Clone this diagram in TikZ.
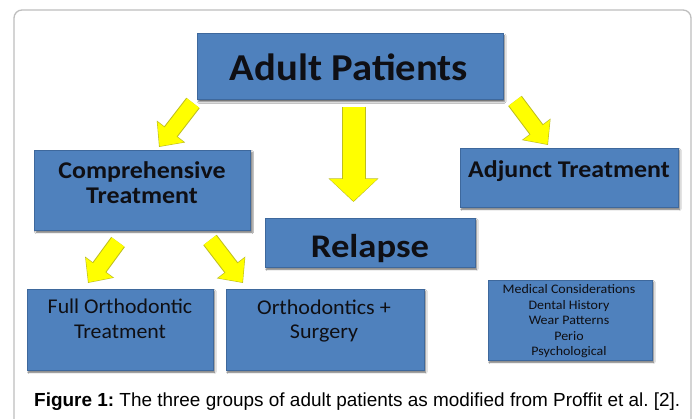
\documentclass[tikz,border=0pt]{standalone}
\usepackage{fontspec}
\setmainfont{Carlito}
\newfontfamily\capfont{Liberation Sans}
\usetikzlibrary{arrows.meta,shadows.blur}
\definecolor{boxblue}{RGB}{79,129,189}
\definecolor{boxedge}{RGB}{62,104,156}
\definecolor{txt}{RGB}{15,15,20}
\definecolor{arrfill}{RGB}{255,255,0}
\definecolor{arredge}{RGB}{190,190,30}
\definecolor{framegray}{RGB}{190,190,190}
\tikzset{
  bluebox/.style={rectangle, fill=boxblue, draw=boxedge, line width=0.8pt, inner sep=0pt,
    blur shadow={shadow xshift=1.6pt, shadow yshift=-2.2pt, shadow blur radius=1.6pt, shadow opacity=60}},
  lbl/.style={anchor=base, text=txt, inner sep=0pt},
  arrback/.style={draw=arredge, line width=#1+2pt},
  arrfront/.style={draw=arrfill, line width=#1},
}
\newcommand{\hs}[2]{\scalebox{#1}[1]{#2}}
\newcommand{\yarrow}[5]{% start, end, shaft, headwidth, headlength
  \draw[arrback=#3, -{Triangle[width=#4+2.6pt, length=#5+1.6pt]}] (#1) -- (#2);
  \draw[arrfront=#3, -{Triangle[width=#4, length=#5]}, shorten >=0.9pt] (#1) -- (#2);
}
\begin{document}
\begin{tikzpicture}[x=1pt,y=-1pt]
\useasboundingbox (0,0) rectangle (697,419);
\fill[white] (0,0) rectangle (697,419);
\draw[framegray, line width=1.3pt, rounded corners=8pt] (14,440) -- (14,10) -- (691,10) -- (691,440);

% boxes
\node[bluebox, minimum width=306pt, minimum height=66pt] (adult) at (350,66.5) {};
\node[bluebox, minimum width=216pt, minimum height=80pt] (comp) at (142.5,190) {};
\node[bluebox, minimum width=218pt, minimum height=59pt] (adj) at (569,177.5) {};
\node[bluebox, minimum width=210pt, minimum height=49pt] (rel) at (370,242.5) {};
\node[bluebox, minimum width=186pt, minimum height=81pt] (full) at (120,329.5) {};
\node[bluebox, minimum width=198pt, minimum height=81pt] (surg) at (325,329.5) {};
\node[bluebox, minimum width=164pt, minimum height=80pt] (med) at (570,320) {};

% texts
\node[lbl, font=\fontsize{38}{42}\selectfont\bfseries] (tadult) at (349,81) {\hs{1.07}{Adult Patients}};
\node[lbl, font=\fontsize{24}{27}\selectfont\bfseries] (tcomp1) at (142,178.5) {\hs{1.08}{Comprehensive}};
\node[lbl, font=\fontsize{24}{27}\selectfont\bfseries] (tcomp2) at (142,204) {\hs{1.08}{Treatment}};
\node[lbl, font=\fontsize{24}{27}\selectfont\bfseries] (tadj) at (569,177.5) {\hs{1.08}{Adjunct Treatment}};
\node[lbl, font=\fontsize{33}{36}\selectfont\bfseries] (trel) at (370,257.5) {\hs{1.11}{Relapse}};
\node[lbl, font=\fontsize{21}{25}\selectfont] (tfull1) at (120,313.5) {\hs{1.04}{Full Orthodontic}};
\node[lbl, font=\fontsize{21}{25}\selectfont] (tfull2) at (120,339) {\hs{1.04}{Treatment}};
\node[lbl, font=\fontsize{21}{25}\selectfont] (tsurg1) at (324,315) {\hs{1.05}{Orthodontics +}};
\node[lbl, font=\fontsize{21}{25}\selectfont] (tsurg2) at (324,339) {\hs{1.05}{Surgery}};
\node[lbl, font=\fontsize{13}{15}\selectfont] (tmed1) at (569,294) {\hs{1.075}{Medical Considerations}};
\node[lbl, font=\fontsize{13}{15}\selectfont] (tmed2) at (569,309.5) {\hs{1.075}{Dental History}};
\node[lbl, font=\fontsize{13}{15}\selectfont] (tmed3) at (569,325) {\hs{1.075}{Wear Patterns}};
\node[lbl, font=\fontsize{13}{15}\selectfont] (tmed4) at (569,340.5) {\hs{1.075}{Perio}};
\node[lbl, font=\fontsize{13}{15}\selectfont] (tmed5) at (569,356) {\hs{1.075}{Psychological}};

% caption
\node[anchor=base west, inner sep=0pt, font=\capfont\fontsize{20}{24}\selectfont, text=black] (cap) at (34,406.5)
  {\resizebox{646pt}{!}{\frenchspacing\textbf{Figure 1:} The three groups of adult patients as modified from Proffit et al. [2].}};

% arrows
\coordinate (a1s) at (193,103); \coordinate (a1e) at (159,147);
\coordinate (a2s) at (353.5,107); \coordinate (a2e) at (353.5,202);
\coordinate (a3s) at (515,101); \coordinate (a3e) at (548,145);
\coordinate (a4s) at (118,242); \coordinate (a4e) at (88,283);
\coordinate (a5s) at (210,240); \coordinate (a5e) at (243,283);
\yarrow{a1s}{a1e}{15pt}{32pt}{18pt}
\yarrow{a2s}{a2e}{22pt}{46pt}{22pt}
\yarrow{a3s}{a3e}{15pt}{32pt}{18pt}
\yarrow{a4s}{a4e}{15pt}{32pt}{18pt}
\yarrow{a5s}{a5e}{15pt}{32pt}{18pt}
\end{tikzpicture}
\end{document}
